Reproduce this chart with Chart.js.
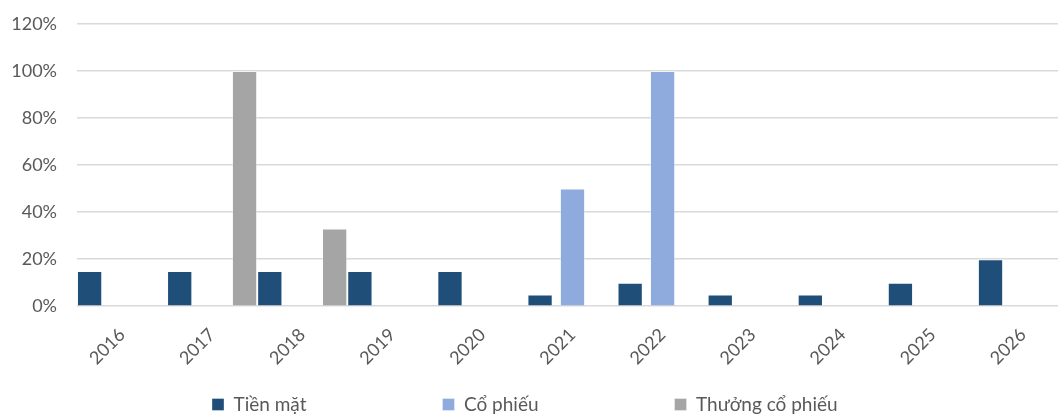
<!DOCTYPE html>
<html>
<head>
<meta charset="utf-8">
<script src="https://cdn.jsdelivr.net/npm/chart.js@4/dist/chart.umd.min.js"></script>
<style>
  html, body { margin: 0; padding: 0; background: #fff; overflow: hidden; }
  #wrap { width: 1070px; height: 414px; }
</style>
</head>
<body>
<div id="wrap"><canvas id="divChart" width="1070" height="414"></canvas></div>
<script>
// Tỷ lệ chia cổ tức theo năm
var years = ['2016', '2017', '2018', '2019', '2020', '2021', '2022', '2023', '2024', '2025', '2026'];
var tienMat = [0.15, 0.15, 0.15, 0.15, 0.15, 0.05, 0.10, 0.05, 0.05, 0.10, 0.20];
var coPhieu = [null, null, null, null, null, 0.50, 1.00, null, null, null, null];
var thuongCoPhieu = [null, 1.00, 0.33, null, null, null, null, null, null, null, null];
var yTicks = [0, 0.2, 0.4, 0.6, 0.8, 1.0, 1.2];

var textColor = '#595959';
var fontName = 'Lato, "Liberation Sans", sans-serif';

// vị trí chú thích (ô màu đầu tiên)
var legendX = 212, legendY = 395;

var legendPos = {
    id: 'legendPos',
    afterLayout: function(chart) {
        var lg = chart.legend;
        if (!lg) return;
        var p = lg.options.labels.padding;
        lg.left = legendX - p;
        lg.top = legendY - p;
        lg.right = chart.width;
        lg.bottom = chart.height;
    }
};

function makeSet(label, data, color) {
    return {
        label: label,
        data: data,
        backgroundColor: color,
        borderColor: 'rgba(255,255,255,0.35)',
        borderWidth: 1,
        borderSkipped: 'bottom',
        categoryPercentage: 1.08,
        barPercentage: 0.78
    };
}

var ctx = document.getElementById('divChart');
var myChart = new Chart(ctx, {
    type: 'bar',
    data: {
        labels: years,
        datasets: [
            makeSet('Tiền mặt', tienMat, '#1f4e79'),
            makeSet('Cổ phiếu', coPhieu, '#8faadc'),
            makeSet('Thưởng cổ phiếu', thuongCoPhieu, '#a5a5a5')
        ]
    },
    options: {
        responsive: false,
        animation: false,
        layout: { padding: { top: 24, left: 0, right: 2, bottom: 0 } },
        plugins: {
            tooltip: { enabled: false },
            legend: {
                position: 'bottom',
                align: 'start',
                maxHeight: 35,
                labels: {
                    color: textColor,
                    font: { family: fontName, size: 19 },
                    boxWidth: 12,
                    boxHeight: 12,
                    padding: 136
                }
            }
        },
        scales: {
            x: {
                grid: { display: false },
                border: { display: false },
                ticks: {
                    color: textColor,
                    font: { family: fontName, size: 18 },
                    minRotation: 45,
                    maxRotation: 45,
                    padding: 10
                },
                // nhãn xoay không cần chừa lề trái
                afterFit: function(s) {
                    s.paddingLeft = 0;
                    s.paddingRight = 0;
                }
            },
            y: {
                min: 0,
                max: 1.2,
                afterBuildTicks: function(axis) {
                    axis.ticks = yTicks.map(function(v) { return { value: v }; });
                },
                afterFit: function(s) {
                    s.width = 77;
                    s.paddingTop = 0;
                    s.paddingBottom = 0;
                },
                grid: { color: '#d9d9d9', lineWidth: 1.5, drawTicks: false },
                border: { display: false },
                ticks: {
                    color: textColor,
                    font: { family: fontName, size: 18 },
                    padding: 20,
                    callback: function(v) { return Math.round(v * 100) + '%'; }
                }
            }
        }
    },
    plugins: [legendPos]
});
</script>
</body>
</html>
